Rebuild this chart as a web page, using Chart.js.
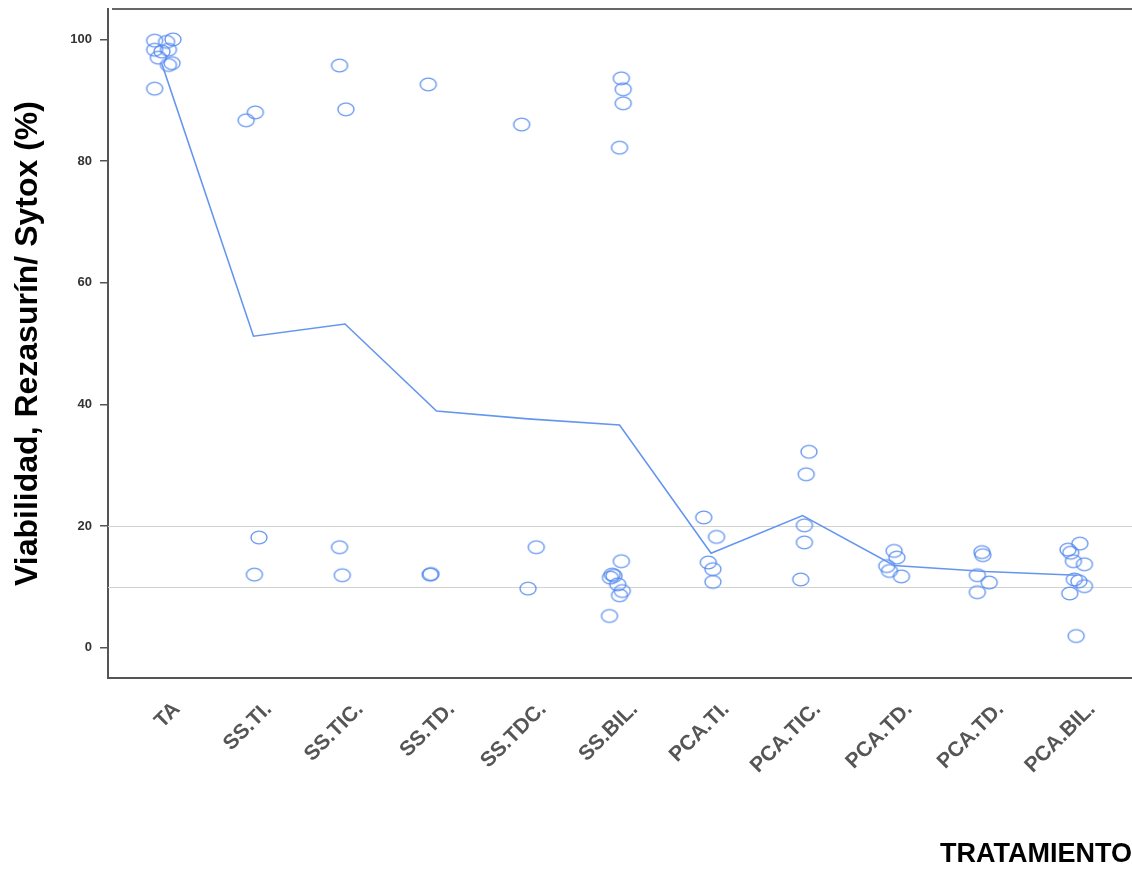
<!DOCTYPE html>
<html>
<head>
<meta charset="utf-8">
<script src="https://cdn.jsdelivr.net/npm/chart.js@4.4.1/dist/chart.umd.min.js"></script>
<style>
  html, body { margin: 0; padding: 0; background: #fff; }
  #wrap { width: 1132px; height: 871px; position: relative; }
</style>
</head>
<body>
<div id="wrap"><canvas id="viab"></canvas></div>
<script>
// Treatments along the x axis
const categories = ['TA', 'SS.TI.', 'SS.TIC.', 'SS.TD.', 'SS.TDC.', 'SS.BIL.',
                    'PCA.TI.', 'PCA.TIC.', 'PCA.TD.', 'PCA.TD.', 'PCA.BIL.'];

// Mean viability per treatment (line)
const meanLine = [95.9, 51.2, 53.2, 38.9, 37.6, 36.6, 15.5, 21.7, 13.5, 12.5, 11.9];

// Individual replicate values per treatment
const replicates = [
  [99.8, 99.6, 100.0, 98.3, 98.0, 98.3, 97.0, 96.1, 95.8, 91.9],
  [86.7, 88.0, 18.1, 12.0],
  [95.7, 88.5, 16.5, 11.9],
  [92.6, 12.0, 12.1],
  [86.0, 16.5, 9.7],
  [93.6, 91.8, 89.5, 82.2, 14.2, 12.0, 11.8, 11.5, 10.4, 9.3, 8.6, 5.2],
  [21.4, 18.2, 14.0, 12.9, 10.8],
  [32.2, 28.5, 20.1, 17.3, 11.2],
  [15.9, 14.8, 13.4, 12.6, 11.7],
  [15.7, 15.2, 11.9, 10.7, 9.1],
  [17.1, 16.1, 15.6, 14.2, 13.7, 11.2, 10.9, 10.1, 8.9, 1.9]
];

// Horizontal jitter of each replicate (in category units)
const jitter = [
  [-0.08, 0.05, 0.12, -0.08, 0.00, 0.07, -0.04, 0.11, 0.07, -0.08],
  [-0.08, 0.02, 0.06, 0.01],
  [-0.06, 0.01, -0.06, -0.03],
  [-0.09, -0.07, -0.06],
  [-0.07, 0.09, 0.00],
  [0.02, 0.04, 0.04, 0.00, 0.02, -0.08, -0.06, -0.10, -0.02, 0.03, 0.00, -0.11],
  [-0.08, 0.06, -0.03, 0.02, 0.02],
  [0.07, 0.04, 0.02, 0.02, -0.02],
  [0.00, 0.03, -0.08, -0.05, 0.08],
  [-0.04, -0.03, -0.09, 0.04, -0.09],
  [0.03, -0.10, -0.07, -0.04, 0.08, -0.03, 0.02, 0.08, -0.08, -0.01]
];

// Reference thresholds
const refLines = [20, 10];
const yTicks = [0, 20, 40, 60, 80, 100];

const BLUE = 'rgba(80, 135, 240, 0.85)';

// open ellipse marker
function ellipseMarker() {
  const c = document.createElement('canvas');
  c.width = 20; c.height = 17;
  const g = c.getContext('2d');
  g.strokeStyle = BLUE;
  g.lineWidth = 1.4;
  g.beginPath();
  g.ellipse(10, 8.5, 8, 6.4, 0, 0, Math.PI * 2);
  g.stroke();
  return c;
}

const scatterData = [];
replicates.forEach((vals, i) => {
  vals.forEach((v, k) => scatterData.push({ x: i + jitter[i][k], y: v }));
});
const lineData = meanLine.map((v, i) => ({ x: i, y: v }));

const frameLines = {
  id: 'frameLines',
  beforeDatasetsDraw(chart) {
    const { ctx, chartArea, scales } = chart;
    ctx.save();
    ctx.strokeStyle = '#d2d2d2';
    ctx.lineWidth = 1.2;
    refLines.forEach(v => {
      const y = Math.round(scales.y.getPixelForValue(v)) + 0.5;
      ctx.beginPath();
      ctx.moveTo(chartArea.left, y);
      ctx.lineTo(chartArea.right, y);
      ctx.stroke();
    });
    ctx.strokeStyle = '#333';
    ctx.lineWidth = 1.6;
    ctx.beginPath();
    ctx.moveTo(chartArea.left + 4, chartArea.top);
    ctx.lineTo(chartArea.right, chartArea.top);
    ctx.stroke();
    ctx.restore();
  }
};

new Chart(document.getElementById('viab'), {
  data: {
    datasets: [
      {
        type: 'line',
        data: lineData,
        borderColor: 'rgb(100, 150, 240)',
        borderWidth: 1.6,
        pointRadius: 0,
        tension: 0
      },
      {
        type: 'scatter',
        data: scatterData,
        pointStyle: ellipseMarker(),
        pointRadius: 8
      }
    ]
  },
  options: {
    responsive: true,
    maintainAspectRatio: false,
    animation: false,
    layout: { autoPadding: false, padding: { top: 9, left: 0, right: 0, bottom: 0 } },
    plugins: {
      legend: { display: false },
      tooltip: { enabled: false }
    },
    scales: {
      x: {
        type: 'linear',
        min: -0.59,
        max: 10.6,
        afterBuildTicks: scale => {
          scale.ticks = categories.map((_, i) => ({ value: i }));
        },
        afterFit: scale => {
          scale.height = 193;
          scale.paddingLeft = 0;
          scale.paddingRight = 0;
        },
        grid: { display: false, drawTicks: false },
        border: { display: true, color: '#555', width: 2 },
        ticks: {
          autoSkip: false,
          minRotation: 45,
          maxRotation: 45,
          padding: 19,
          labelOffset: 15,
          color: '#555',
          font: { family: 'Liberation Sans, Arial, sans-serif', size: 21, weight: 'bold' },
          callback: v => categories[v]
        },
        title: {
          display: true,
          text: 'TRATAMIENTO',
          align: 'end',
          color: '#000',
          padding: { top: 0, bottom: 0 },
          font: { family: 'Liberation Sans, Arial, sans-serif', size: 27, weight: 'bold' }
        }
      },
      y: {
        min: -5,
        max: 105,
        afterBuildTicks: scale => {
          scale.ticks = yTicks.map(v => ({ value: v }));
        },
        afterFit: scale => {
          scale.width = 108;
          scale.paddingTop = 0;
          scale.paddingBottom = 0;
        },
        grid: {
          drawOnChartArea: false,
          drawTicks: true,
          tickLength: 8,
          color: '#555',
          lineWidth: 1.5
        },
        border: { display: true, color: '#555', width: 2 },
        ticks: {
          padding: 8,
          color: '#333',
          font: { family: 'Liberation Sans, Arial, sans-serif', size: 13, weight: 'bold' }
        },
        title: {
          display: true,
          text: 'Viabilidad, Rezasurín/ Sytox (%)',
          color: '#000',
          padding: { top: 9, bottom: 0 },
          font: { family: 'Liberation Sans, Arial, sans-serif', size: 32, weight: 'bold' }
        }
      }
    }
  },
  plugins: [frameLines]
});
</script>
</body>
</html>
